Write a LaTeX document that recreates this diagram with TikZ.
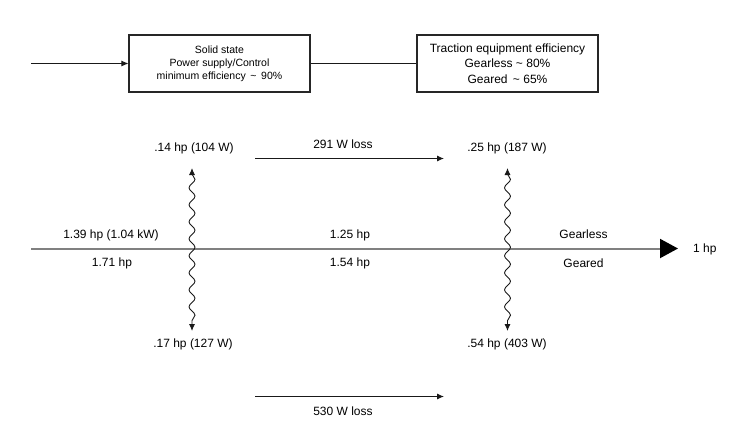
\documentclass[tikz,border=0pt]{standalone}
\usepackage{fontspec}
\setmainfont{Liberation Sans}
\usetikzlibrary{arrows.meta,decorations.pathmorphing}
\begin{document}
\begin{tikzpicture}[x=1pt,y=-1pt,
  box/.style={draw=black!85, line width=1.1pt, minimum width=181pt, minimum height=57pt, inner sep=0pt, align=center},
  lbl/.style={inner sep=0pt, font=\fontsize{12}{14}\selectfont},
  conn/.style={draw=black!90, line width=0.9pt},
  tip/.style={-{Latex[length=7pt,width=6pt]}},
  wave/.style={conn, {Latex[length=7pt,width=6pt]}-{Latex[length=7pt,width=6pt]},
    decorate, decoration={snake, segment length=17pt, amplitude=3pt, pre length=6pt, post length=7pt}},
  mainline/.style={draw=black!50, line width=2pt, -{Triangle[length=18pt,width=19pt,color=black,fill=black]}}
]
\useasboundingbox (0,0) rectangle (741,434);

% top boxes
\node[box, font=\fontsize{10.5}{13.2}\selectfont] (ps) at (219.5,63.5)
  {Solid state\\Power supply/Control\\minimum efficiency \,\textasciitilde\, 90\%};
\node[box, font=\fontsize{12}{15.5}\selectfont] (te) at (507.5,63.5)
  {Traction equipment efficiency\\Gearless \textasciitilde{} 80\%\\Geared \,\textasciitilde{} 65\%};
\coordinate (in) at (31,63.5);
\draw[conn, tip] (in) -- (ps.west);
\draw[conn] (ps.east) -- (te.west);

% main power line
\coordinate (ms) at (31,248.5);
\coordinate (me) at (678,248.5);
\draw[mainline] (ms) -- (me);
\node[lbl, anchor=west] (out) at (693,249) {1 hp};

\node[lbl] (p1a) at (111,235) {1.39 hp (1.04 kW)};
\node[lbl] (p1b) at (112,263.5) {1.71 hp};
\node[lbl] (p2a) at (350,235) {1.25 hp};
\node[lbl] (p2b) at (350,263.5) {1.54 hp};
\node[lbl] (gl) at (583.5,234) {Gearless};
\node[lbl] (gd) at (583.5,263.5) {Geared};

% loss labels
\node[lbl] (l1t) at (194,148) {.14 hp (104 W)};
\node[lbl] (l1b) at (193,344) {.17 hp (127 W)};
\node[lbl] (l2t) at (507,148.5) {.25 hp (187 W)};
\node[lbl] (l2b) at (507,344) {.54 hp (403 W)};

\coordinate (w1t) at (192,168);
\coordinate (w1b) at (192,331);
\coordinate (w2t) at (507.5,168);
\coordinate (w2b) at (507.5,331);
\draw[wave] (w1t) -- (w1b);
\draw[wave] (w2t) -- (w2b);

% loss arrows
\node[lbl] (ta) at (343,144) {291 W loss};
\node[lbl] (ba) at (343,411.5) {530 W loss};
\coordinate (tas) at (255,158.5);
\coordinate (tae) at (444,158.5);
\coordinate (bas) at (255,396.5);
\coordinate (bae) at (444,396.5);
\draw[conn, tip] (tas) -- (tae);
\draw[conn, tip] (bas) -- (bae);
\end{tikzpicture}
\end{document}
